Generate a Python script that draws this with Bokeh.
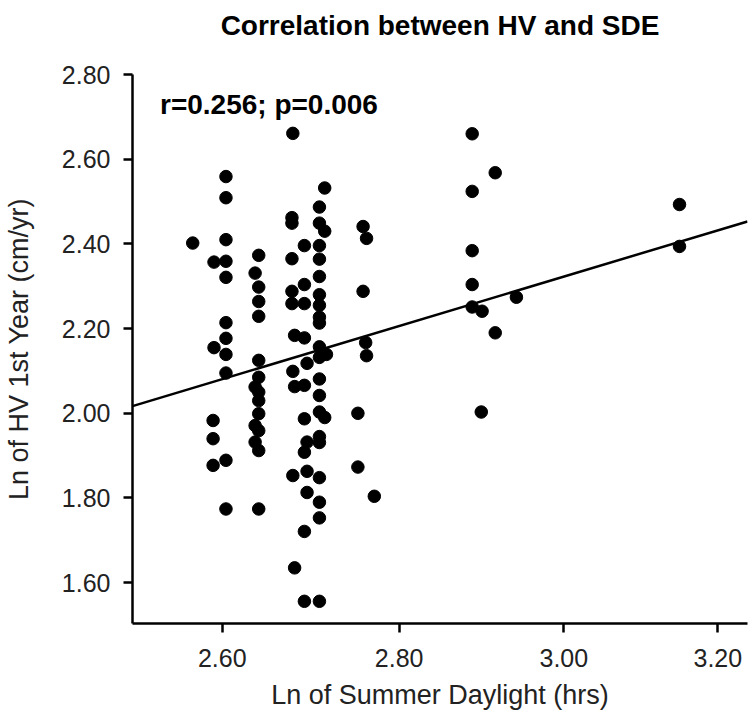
from bokeh.plotting import figure
from bokeh.models import FixedTicker, PrintfTickFormatter, Label, Title, Range1d, ColumnDataSource
from bokeh.embed import file_html
from bokeh.resources import INLINE

# Ln of summer daylight (hrs) for each subject
daylight_ln = [
    2.568,
    2.591, 2.591, 2.590, 2.590, 2.590,
    2.604, 2.604, 2.604, 2.604, 2.604, 2.604, 2.604, 2.604, 2.604, 2.604, 2.604,
    2.640, 2.636, 2.640, 2.640, 2.640, 2.640, 2.640, 2.636, 2.640, 2.640, 2.640, 2.636, 2.640, 2.636, 2.640, 2.640,
    2.678, 2.677, 2.677, 2.677, 2.677, 2.677, 2.680, 2.678, 2.680, 2.678, 2.680,
    2.691, 2.691, 2.691, 2.691, 2.694, 2.691, 2.691, 2.694, 2.691, 2.694, 2.694, 2.691, 2.691,
    2.708, 2.708, 2.708, 2.708, 2.708, 2.708, 2.708, 2.708, 2.708, 2.708,
    2.708, 2.708, 2.708, 2.708, 2.708, 2.708, 2.708, 2.708, 2.708, 2.708,
    2.714, 2.714, 2.716, 2.714,
    2.752, 2.752,
    2.758, 2.762, 2.758, 2.761, 2.762,
    2.771,
    2.887, 2.887, 2.887, 2.887, 2.887,
    2.899, 2.898,
    2.915, 2.915,
    2.941,
    3.149, 3.149,
]
# Ln of height velocity in the 1st year (cm/yr)
hv_ln = [
    2.402,
    2.357, 2.155, 1.983, 1.940, 1.877,
    2.559, 2.509, 2.410, 2.359, 2.321, 2.214, 2.177, 2.139, 2.095, 1.889, 1.774,
    2.373, 2.331, 2.298, 2.264, 2.229, 2.125, 2.085, 2.062, 2.050, 2.030, 1.999, 1.971, 1.959, 1.932, 1.912, 1.774,
    2.661, 2.462, 2.449, 2.365, 2.288, 2.259, 2.184, 2.099, 2.063, 1.853, 1.635,
    2.396, 2.304, 2.259, 2.178, 2.118, 2.066, 1.987, 1.932, 1.908, 1.863, 1.813, 1.721, 1.556,
    2.487, 2.449, 2.396, 2.364, 2.323, 2.280, 2.255, 2.227, 2.213, 2.157,
    2.132, 2.081, 2.042, 2.003, 1.945, 1.931, 1.848, 1.790, 1.753, 1.556,
    2.532, 2.430, 2.139, 1.990,
    2.000, 1.873,
    2.441, 2.413, 2.288, 2.167, 2.136,
    1.804,
    2.660, 2.524, 2.384, 2.304, 2.251,
    2.241, 2.003,
    2.568, 2.190,
    2.274,
    2.493, 2.394,
]
# regression line end points
fit_x = [2.504, 3.24]
fit_y = [2.017, 2.453]

x_ticks = [2.60, 2.80, 3.00, 3.20]
y_ticks = [1.60, 1.80, 2.00, 2.20, 2.40, 2.60, 2.80]

FONT = "Liberation Sans"

p = figure(width=749, height=723, x_axis_type="log",
           x_range=Range1d(2.504, 3.24), y_range=Range1d(1.5036, 2.80),
           output_backend="svg", toolbar_location=None,
           min_border_left=132, min_border_right=2, min_border_top=74, min_border_bottom=100)

p.add_layout(Title(text=" ", text_font_size="16px"), "above")
p.add_layout(Title(text="Correlation between HV and SDE", align="center", offset=7,
                   text_font=FONT, text_font_size="28px", text_font_style="bold",
                   text_color="black"), "above")

p.grid.visible = False
p.outline_line_color = None
p.background_fill_color = "white"
p.border_fill_color = "white"

src = ColumnDataSource(data=dict(x=daylight_ln, y=hv_ln))
p.scatter("x", "y", source=src, size=12.5, fill_color="black", line_color="black")
p.line(fit_x, fit_y, line_color="black", line_width=2.5)

for ax in (p.xaxis[0], p.yaxis[0]):
    ax.axis_line_width = 2.5
    ax.axis_line_color = "black"
    ax.major_tick_line_width = 2.5
    ax.major_tick_line_color = "black"
    ax.major_tick_in = 0
    ax.major_tick_out = 9
    ax.minor_tick_line_color = None
    ax.major_label_text_font = FONT
    ax.major_label_text_font_size = "25px"
    ax.major_label_text_color = "#222222"
    ax.axis_label_text_font = FONT
    ax.axis_label_text_font_size = "27px"
    ax.axis_label_text_font_style = "normal"
    ax.axis_label_text_color = "#222222"
    ax.major_label_text_font_style = "normal"
    ax.formatter = PrintfTickFormatter(format="%.2f")

p.xaxis.ticker = FixedTicker(ticks=x_ticks, minor_ticks=[])
p.yaxis.ticker = FixedTicker(ticks=y_ticks, minor_ticks=[])
p.xaxis.axis_label = "Ln of Summer Daylight (hrs)"
p.yaxis.axis_label = "Ln of HV 1st Year (cm/yr)"
p.xaxis.major_label_standoff = 16
p.yaxis.major_label_standoff = 13
p.xaxis.axis_label_standoff = 10
p.yaxis.axis_label_standoff = 25

p.add_layout(Label(x=2.533, y=2.729, text="r=0.256; p=0.006", text_font=FONT,
                   text_font_size="28px", text_font_style="bold", text_color="black",
                   text_baseline="alphabetic"))

open("out.html", "w").write(file_html(p, INLINE))
